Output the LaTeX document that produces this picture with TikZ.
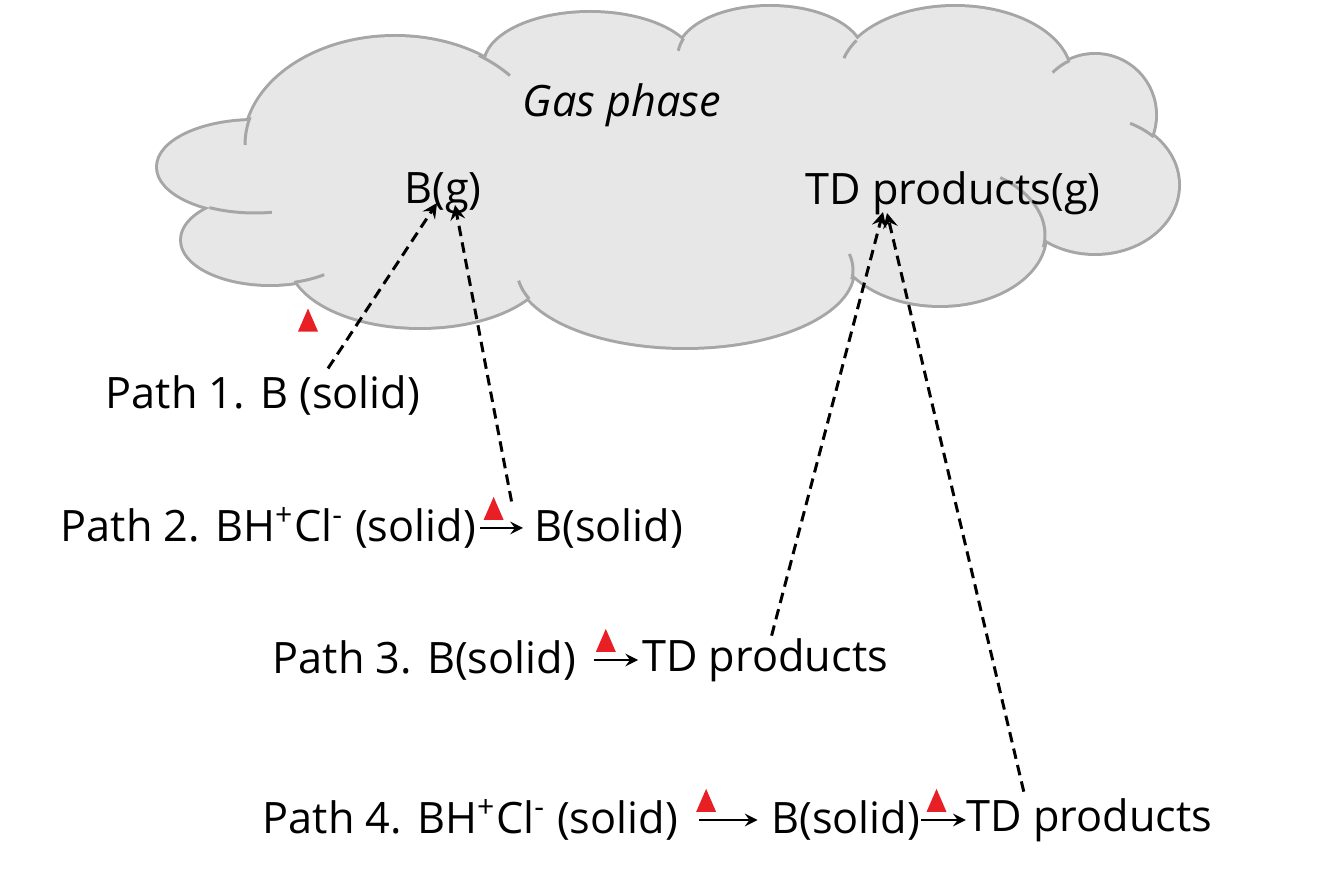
\documentclass[tikz,border=0pt]{standalone}
\usepackage{fontspec}
\setmainfont{Open Sans}
\usepackage{tikz}
\usetikzlibrary{shapes.geometric, arrows, calc, positioning}
\definecolor{cloudfill}{RGB}{231,231,231}
\definecolor{cloudline}{RGB}{166,166,166}
\definecolor{heatred}{RGB}{232,32,38}
\tikzstyle{species} = [anchor=west, inner sep=0pt, font=\fontsize{12.3}{15}\selectfont]
\tikzstyle{gas} = [inner sep=0pt, font=\fontsize{12.3}{15}\selectfont]
\tikzstyle{heat} = [isosceles triangle, isosceles triangle stretches, shape border rotate=90, minimum width=0.2cm, minimum height=0.23cm, inner sep=0pt, fill=heatred]
\tikzstyle{react} = [line width=0.6pt,->,>=stealth]
\tikzstyle{escape} = [line width=0.85pt, dash pattern=on 3pt off 1.8pt, ->, >=stealth]
\tikzstyle{lobe} = [cloudline, line width=1.7pt]
\tikzstyle{hook} = [cloudline, line width=0.85pt]

\begin{document}
\begin{tikzpicture}[x=0.01cm, y=-0.01cm]
   \useasboundingbox (0,0) rectangle (1322,880);
   % cloud: union of lobes, outline first then fill
   \foreach \cx/\cy/\rx/\ry in {395/145/150/108, 255/167/97/46, 270/240/88/44, 420/260/130/67, 685/270/168/77, 940/235/105/70, 1095/185/83/68, 1095/115/60/60, 955/76/115/69, 770/55/92/48, 590/65/105/52, 690/170/400/105}
      \draw[lobe] (\cx,\cy) ellipse[x radius=\rx, y radius=\ry];
   \foreach \cx/\cy/\rx/\ry in {395/145/150/108, 255/167/97/46, 270/240/88/44, 420/260/130/67, 685/270/168/77, 940/235/105/70, 1095/185/83/68, 1095/115/60/60, 955/76/115/69, 770/55/92/48, 590/65/105/52, 690/170/400/105}
      \fill[cloudfill] (\cx,\cy) ellipse[x radius=\rx, y radius=\ry];
   % small inner arcs where lobes meet
   \foreach \cx/\cy/\rx/\ry/\a/\b in {395/145/150/108/-56/-40, 255/167/97/46/118/80, 395/145/150/108/195/180, 270/240/88/44/74/52, 685/270/168/77/158/172, 770/55/92/48/200/185, 955/76/115/69/211/195, 685/270/168/77/7/-12, 940/235/105/70/10/-55, 1095/185/83/68/-45/-65, 1095/115/60/60/245/225}
      \draw[hook] ({\cx+\rx*cos(\a)},{\cy+\ry*sin(\a)}) arc[start angle=\a, end angle=\b, x radius=\rx, y radius=\ry];

   \node (gp) [gas] at (622,105) {\itshape Gas phase};
   \node (bg) [gas] at (443,193) {B(g)};
   \node (tdg) [gas] at (953,193) {TD products(g)};

   \node (p1) [species] at (105,395) {Path 1. B (solid)};
   \node (p2) [species] at (60,528) {Path 2. BH\textsuperscript{+}Cl\textsuperscript{-} (solid)};
   \node (p2b) [species, right=0.57cm of p2] {B(solid)};
   \node (p3) [species] at (272,660) {Path 3. B(solid)};
   \node (p3b) [species, right=0.65cm of p3] {TD products};
   \node (p4) [species] at (262,820) {Path 4. BH\textsuperscript{+}Cl\textsuperscript{-} (solid)};
   \node (p4b) [species, right=0.92cm of p4] {B(solid)};
   \node (p4c) [species, right=0.45cm of p4b] {TD products};

   \node (h1) [heat] at (308,325) {};
   \draw [react, shorten <=1pt, shorten >=3pt] (p2) -- node (h2) [heat, pos=0.3, above=2pt] {} (p2b);
   \draw [react, shorten <=0.17cm, shorten >=1pt] (p3) -- node (h3) [heat, pos=0.45, above=2pt] {} (p3b);
   \draw [react, shorten <=0.2cm, shorten >=0.13cm] (p4) -- node (h4) [heat, pos=0.3, above=2pt] {} (p4b);
   \draw [react] (p4b) -- node (h5) [heat, pos=0.35, above=2pt] {} (p4c);

   \draw [escape] ($(p1.north west)+(223,-6)$) -- ($(bg.center)+(-6,10)$);
   \draw [escape] ($(p2b.north west)+(-22,-6)$) -- ($(bg.center)+(12,12)$);
   \draw [escape] ($(p3b.north west)+(130,-2)$) -- ($(tdg.center)+(-70,19)$);
   \draw [escape] ($(p4c.north west)+(58,-6)$) -- ($(tdg.center)+(-66,20)$);
\end{tikzpicture}
\end{document}
